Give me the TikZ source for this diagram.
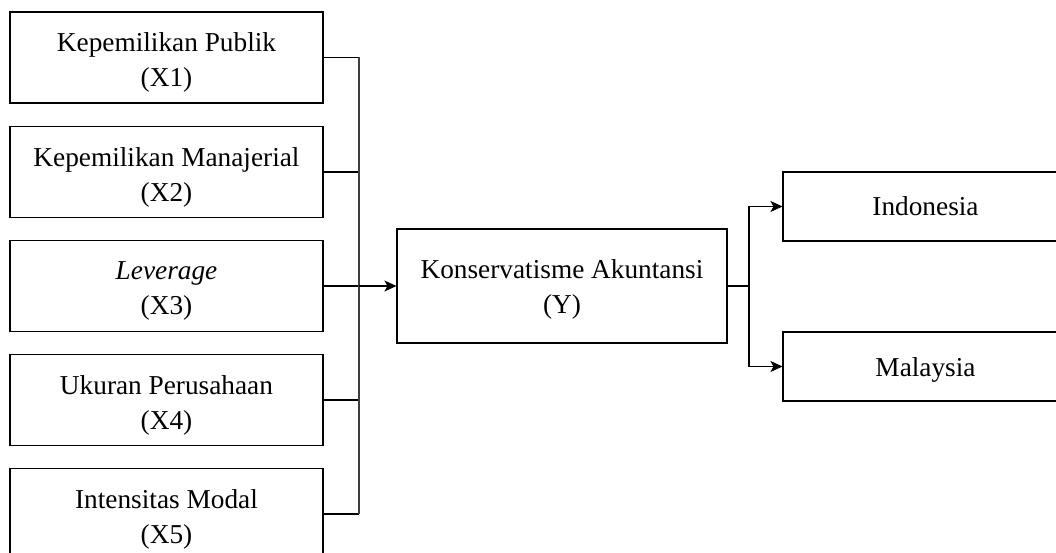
\documentclass[tikz,border=0pt]{standalone}
\usepackage{fontspec}
\setmainfont{Liberation Serif}
\usetikzlibrary{arrows.meta}
\begin{document}
\begin{tikzpicture}[x=1pt,y=-1pt,
  box/.style={draw, line width=1.1pt, inner sep=0pt},
  xbox/.style={box, minimum width=313pt, minimum height=91pt},
  lbl/.style={align=center, inner sep=0pt, font=\fontsize{27.3}{35}\selectfont},
  conn/.style={line width=1.1pt},
  bus/.style={line width=1.4pt, black!75},
  arr/.style={conn, -{Stealth[length=12pt,width=11pt,inset=3pt]}}]
\fill[white] (0,0) rectangle (1056,553);
\useasboundingbox (0,0) rectangle (1056,553);
\node[xbox] (x1) at (166.5,57.5) {};
\node[xbox] (x2) at (166.5,172) {};
\node[xbox] (x3) at (166.5,286) {};
\node[xbox] (x4) at (166.5,400) {};
\node[xbox] (x5) at (166.5,514) {};
\node[lbl] (x1t) at ([yshift=-5pt]x1.center) {Kepemilikan Publik\\(X1)};
\node[lbl] (x2t) at ([yshift=-5pt]x2.center) {Kepemilikan Manajerial\\(X2)};
\node[lbl] (x3t) at ([yshift=-5pt]x3.center) {\textit{Leverage}\\(X3)};
\node[lbl] (x4t) at ([yshift=-5pt]x4.center) {Ukuran Perusahaan\\(X4)};
\node[lbl] (x5t) at ([yshift=-5pt]x5.center) {Intensitas Modal\\(X5)};
\node[box, minimum width=330pt, minimum height=114pt] (y) at (562,286) {};
\node[lbl] (yt) at ([yshift=-3pt]y.center) {Konservatisme Akuntansi\\(Y)};
\node[box, minimum width=285pt, minimum height=69pt] (ind) at (925.5,206.5) {};
\node[lbl] (indt) at (ind.center) {Indonesia};
\node[box, minimum width=285pt, minimum height=69pt] (mal) at (925.5,366.5) {};
\node[lbl] (malt) at ([yshift=-3pt]mal.center) {Malaysia};
\coordinate (bus) at (359,0);
\coordinate (rbus) at (749,0);
\foreach \n in {x1,x2,x3,x4,x5} \draw[conn] (\n.east) -- (\n.east -| bus);
\draw[bus] (x1.east -| bus) -- (x5.east -| bus);
\draw[arr] (y.west -| bus) -- (y.west);
\draw[conn] (y.east) -- (y.east -| rbus);
\draw[conn] (ind.west -| rbus) -- (mal.west -| rbus);
\draw[arr] (ind.west -| rbus) -- (ind.west);
\draw[arr] (mal.west -| rbus) -- (mal.west);
\end{tikzpicture}
\end{document}
